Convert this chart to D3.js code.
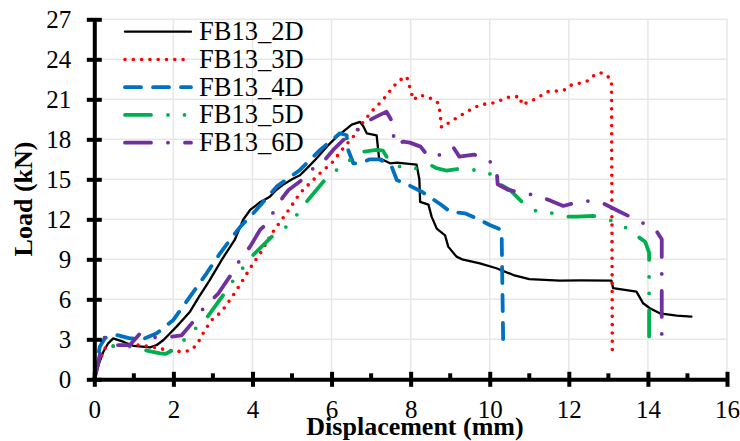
<!DOCTYPE html>
<html>
<head>
<meta charset="utf-8">
<script src="https://cdn.jsdelivr.net/npm/d3@7"></script>
<style>
  html, body { margin: 0; padding: 0; background: #ffffff; }
  svg { display: block; }
</style>
</head>
<body>
<svg id="chart" width="740" height="441"></svg>
<script>
// ---------------- DATA ----------------
const seriesNames = ["FB13_2D", "FB13_3D", "FB13_4D", "FB13_5D", "FB13_6D"];

const xTicks = [0, 2, 4, 6, 8, 10, 12, 14, 16];
const xMinorTicks = [1, 3, 5, 7, 9, 11, 13, 15];
const yTicks = [0, 3, 6, 9, 12, 15, 18, 21, 24, 27];

const fb13_2d = [[0,0],[0.12,1.2],[0.23,2.07],[0.35,2.7],[0.48,3.07],[0.57,2.98],[0.73,2.82],[1.0,2.5],[1.41,2.4],[1.58,2.57],[1.75,2.95],[2.08,3.95],[2.42,5.07],[2.65,6.2],[2.9,7.35],[3.23,9.0],[3.55,10.45],[3.77,12.0],[3.94,12.7],[4.2,13.3],[4.44,13.7],[4.6,14.2],[4.78,14.6],[5.0,15.0],[5.2,15.3],[5.37,15.8],[5.6,16.5],[5.88,17.45],[6.1,18.1],[6.3,18.6],[6.51,19.1],[6.72,19.3],[6.8,19.0],[6.89,18.45],[7.14,18.3],[7.2,16.6],[7.48,16.2],[7.65,16.25],[8.15,16.1],[8.22,15.0],[8.24,13.3],[8.45,13.1],[8.53,12.2],[8.66,11.3],[8.87,10.8],[8.95,9.95],[9.16,9.2],[9.3,9.0],[9.75,8.7],[10.17,8.33],[10.6,7.82],[11.0,7.52],[11.77,7.4],[12.3,7.42],[13.08,7.4],[13.12,6.83],[13.71,6.57],[13.88,5.7],[14.05,5.33],[14.3,4.95],[14.73,4.77],[15.1,4.7]];

const fb13_3d = [[0,0],[0.1,1.2],[0.27,2.33],[0.4,2.45],[0.73,2.57],[1.16,2.57],[1.41,2.45],[1.83,2.2],[2.21,2.07],[2.42,2.15],[2.59,2.57],[2.8,3.7],[2.97,4.45],[3.22,5.07],[3.43,5.95],[3.6,6.7],[3.81,7.7],[4.02,8.7],[4.23,9.6],[4.49,10.95],[4.86,12.45],[5.2,13.95],[5.45,14.7],[5.75,15.57],[6.0,16.2],[6.26,17.2],[6.55,18.2],[6.8,19.3],[7.05,20.2],[7.3,20.95],[7.56,21.95],[7.73,22.45],[7.9,22.7],[7.96,22.08],[8.07,20.95],[8.24,21.33],[8.57,21.0],[8.7,20.7],[8.74,20.07],[8.78,18.9],[9.08,19.45],[9.42,20.07],[9.75,20.58],[10.13,20.75],[10.51,21.2],[10.77,21.2],[10.81,20.58],[11.1,20.95],[11.48,21.58],[11.86,21.65],[12.07,22.08],[12.45,22.33],[12.62,22.75],[12.79,23.0],[12.95,22.83],[13.08,22.4],[13.1,1.9]];

const fb13_4d = [[0,0],[0.08,1.5],[0.14,2.45],[0.27,3.1],[0.57,3.32],[0.9,3.07],[1.28,3.07],[1.58,3.45],[2.0,4.45],[2.42,6.2],[2.84,7.95],[3.18,9.45],[3.43,10.45],[3.68,11.4],[4.02,12.45],[4.61,14.45],[5.2,15.7],[5.71,17.2],[6.21,18.45],[6.38,18.3],[6.42,17.2],[6.55,16.2],[6.72,16.2],[6.97,16.5],[7.2,16.5],[7.35,16.3],[7.52,15.95],[7.65,14.95],[7.94,14.58],[8.28,14.07],[8.53,13.58],[8.78,13.07],[9.0,12.57],[9.37,12.45],[9.67,12.07],[10.0,11.57],[10.3,11.2],[10.34,2.75]];

const fb13_5d = [[0,0],[0.14,1.83],[0.23,2.2],[0.3,2.5],[0.57,2.5],[0.95,2.45],[1.33,2.15],[1.66,1.95],[1.8,1.9],[1.96,2.15],[2.29,3.0],[2.59,3.9],[2.88,4.75],[3.26,6.32],[3.51,7.4],[3.77,8.4],[4.02,9.33],[4.49,10.7],[4.86,11.45],[5.12,12.33],[5.37,13.33],[5.83,14.95],[6.13,15.7],[6.47,16.45],[6.8,17.07],[7.14,17.2],[7.3,17.15],[7.39,16.7],[7.56,16.08],[7.9,15.83],[8.24,15.83],[8.49,16.08],[8.66,15.83],[8.91,15.65],[9.31,15.83],[9.71,15.65],[10.09,15.33],[10.21,14.7],[10.51,14.2],[10.85,13.2],[11.14,12.65],[11.52,12.5],[11.94,12.2],[12.2,12.2],[12.62,12.25],[13.0,12.0],[13.38,11.5],[13.63,10.95],[13.93,10.32],[14.03,9.5],[14.03,2.2]];

const fb13_6d = [[0,0],[0.06,0.7],[0.23,2.95],[0.27,3.2],[0.4,2.8],[0.57,2.57],[0.9,2.57],[1.16,3.45],[1.5,3.15],[1.96,3.2],[2.21,3.3],[2.5,4.32],[2.76,5.32],[3.14,6.45],[3.47,7.9],[3.68,8.95],[3.94,9.95],[4.19,11.2],[4.32,11.57],[4.78,13.7],[4.91,14.2],[5.2,14.83],[5.58,15.95],[5.79,16.32],[6.04,17.2],[6.3,17.95],[6.55,18.45],[6.89,19.33],[7.22,19.83],[7.39,20.07],[7.5,19.5],[7.56,18.45],[7.6,17.58],[7.81,17.83],[7.98,17.75],[8.25,17.45],[8.45,16.7],[8.74,16.83],[9.08,17.4],[9.23,16.7],[9.6,16.85],[9.9,16.6],[10.17,15.9],[10.2,14.63],[10.47,14.2],[11.19,13.77],[11.54,13.4],[11.86,13.0],[12.28,13.33],[12.58,13.38],[12.9,13.15],[13.29,12.57],[13.92,11.65],[14.22,11.1],[14.35,10.5],[14.35,2.15]];

const seriesData = [fb13_2d, fb13_3d, fb13_4d, fb13_5d, fb13_6d];

// ---------------- STYLES ----------------
const SERIF = "'Liberation Serif', 'Times New Roman', Times, serif";
const styles = [
  { color: "#000000", width: 2.3, dash: null,                 cap: "round" },
  { color: "#FF0000", width: 3.6, dash: "0 8.3",              cap: "round" },
  { color: "#0070C0", width: 3.8, dash: "16 12",              cap: "round" },
  { color: "#00B050", width: 3.8, dash: "26 17 0 16.5 0 17",  cap: "round" },
  { color: "#7030A0", width: 3.8, dash: "26 17 0 17",         cap: "round" }
];

// ---------------- LAYOUT ----------------
const svg = d3.select("#chart");
const x = d3.scaleLinear().domain([0, 16]).range([94.3, 727]);
const y = d3.scaleLinear().domain([0, 27]).range([379.3, 19.3]);

// gridlines
const grid = svg.append("g");
grid.selectAll("line.v").data(xTicks.filter(d => d > 0)).join("line")
  .attr("x1", d => x(d)).attr("x2", d => x(d))
  .attr("y1", y(0)).attr("y2", y(27))
  .attr("stroke", "#E7E7E7").attr("stroke-width", 1.5);
grid.selectAll("line.h").data(yTicks.filter(d => d > 0)).join("line")
  .attr("x1", x(0)).attr("x2", x(16))
  .attr("y1", d => y(d)).attr("y2", d => y(d))
  .attr("stroke", "#E7E7E7").attr("stroke-width", 1.5);

// series
const line = d3.line().x(d => x(d[0])).y(d => y(d[1])).curve(d3.curveLinear);
const plot = svg.append("g");
seriesData.forEach((data, i) => {
  const s = styles[i];
  plot.append("path")
    .datum(data)
    .attr("d", line)
    .attr("fill", "none")
    .attr("stroke", s.color)
    .attr("stroke-width", s.width)
    .attr("stroke-linecap", s.cap)
    .attr("stroke-linejoin", "round")
    .attr("stroke-dasharray", s.dash);
});

// axes
const yAxisG = svg.append("g")
  .attr("transform", `translate(${x(0)},0)`)
  .call(d3.axisLeft(y).tickValues(yTicks).tickFormat(d3.format("d")).tickSize(0).tickSizeOuter(0).tickPadding(23));
yAxisG.attr("font-family", null).attr("font-size", null);
yAxisG.select(".domain").attr("stroke", "#000").attr("stroke-width", 4);
yAxisG.selectAll(".tick line").attr("x1", -7.5).attr("x2", 7.5).attr("stroke", "#000").attr("stroke-width", 4);
yAxisG.selectAll(".tick text")
  .style("font-family", SERIF).style("font-size", "25px")
  .attr("fill", "#000").attr("dy", "0.33em");

const xAxisG = svg.append("g")
  .attr("transform", `translate(0,${y(0)})`)
  .call(d3.axisBottom(x).tickValues(xTicks).tickFormat(d3.format("d")).tickSize(0).tickSizeOuter(0));
xAxisG.attr("font-family", null).attr("font-size", null);
xAxisG.select(".domain").attr("stroke", "#000").attr("stroke-width", 4);
xAxisG.selectAll(".tick line").attr("y1", -7.5).attr("y2", 7.5).attr("stroke", "#000").attr("stroke-width", 4);
xAxisG.selectAll(".tick text")
  .style("font-family", SERIF).style("font-size", "25px")
  .attr("fill", "#000").attr("y", 38.5).attr("dy", 0);
xAxisG.selectAll("line.minor").data(xMinorTicks).join("line")
  .attr("class", "minor")
  .attr("x1", d => x(d)).attr("x2", d => x(d))
  .attr("y1", -6).attr("y2", 0)
  .attr("stroke", "#000").attr("stroke-width", 4);

// axis titles
svg.append("text")
  .attr("x", 415).attr("y", 435)
  .attr("text-anchor", "middle")
  .style("font-family", SERIF).style("font-size", "26px").style("font-weight", "bold")
  .attr("fill", "#000")
  .text("Displacement (mm)");
svg.append("text")
  .attr("transform", "translate(31.5,199) rotate(-90)")
  .attr("text-anchor", "middle")
  .style("font-family", SERIF).style("font-size", "26px").style("font-weight", "bold")
  .attr("fill", "#000")
  .text("Load (kN)");

// legend
const legend = svg.append("g");
seriesNames.forEach((name, i) => {
  const s = styles[i];
  const ly = 31.7 + i * 27.75;
  legend.append("line")
    .attr("x1", 125).attr("x2", 191)
    .attr("y1", ly).attr("y2", ly)
    .attr("stroke", s.color)
    .attr("stroke-width", s.width)
    .attr("stroke-linecap", s.cap)
    .attr("stroke-dasharray", s.dash);
  legend.append("text")
    .attr("x", 199).attr("y", ly + 8.5)
    .style("font-family", SERIF).style("font-size", "26.5px")
    .attr("fill", "#000")
    .text(name);
});
</script>
</body>
</html>
